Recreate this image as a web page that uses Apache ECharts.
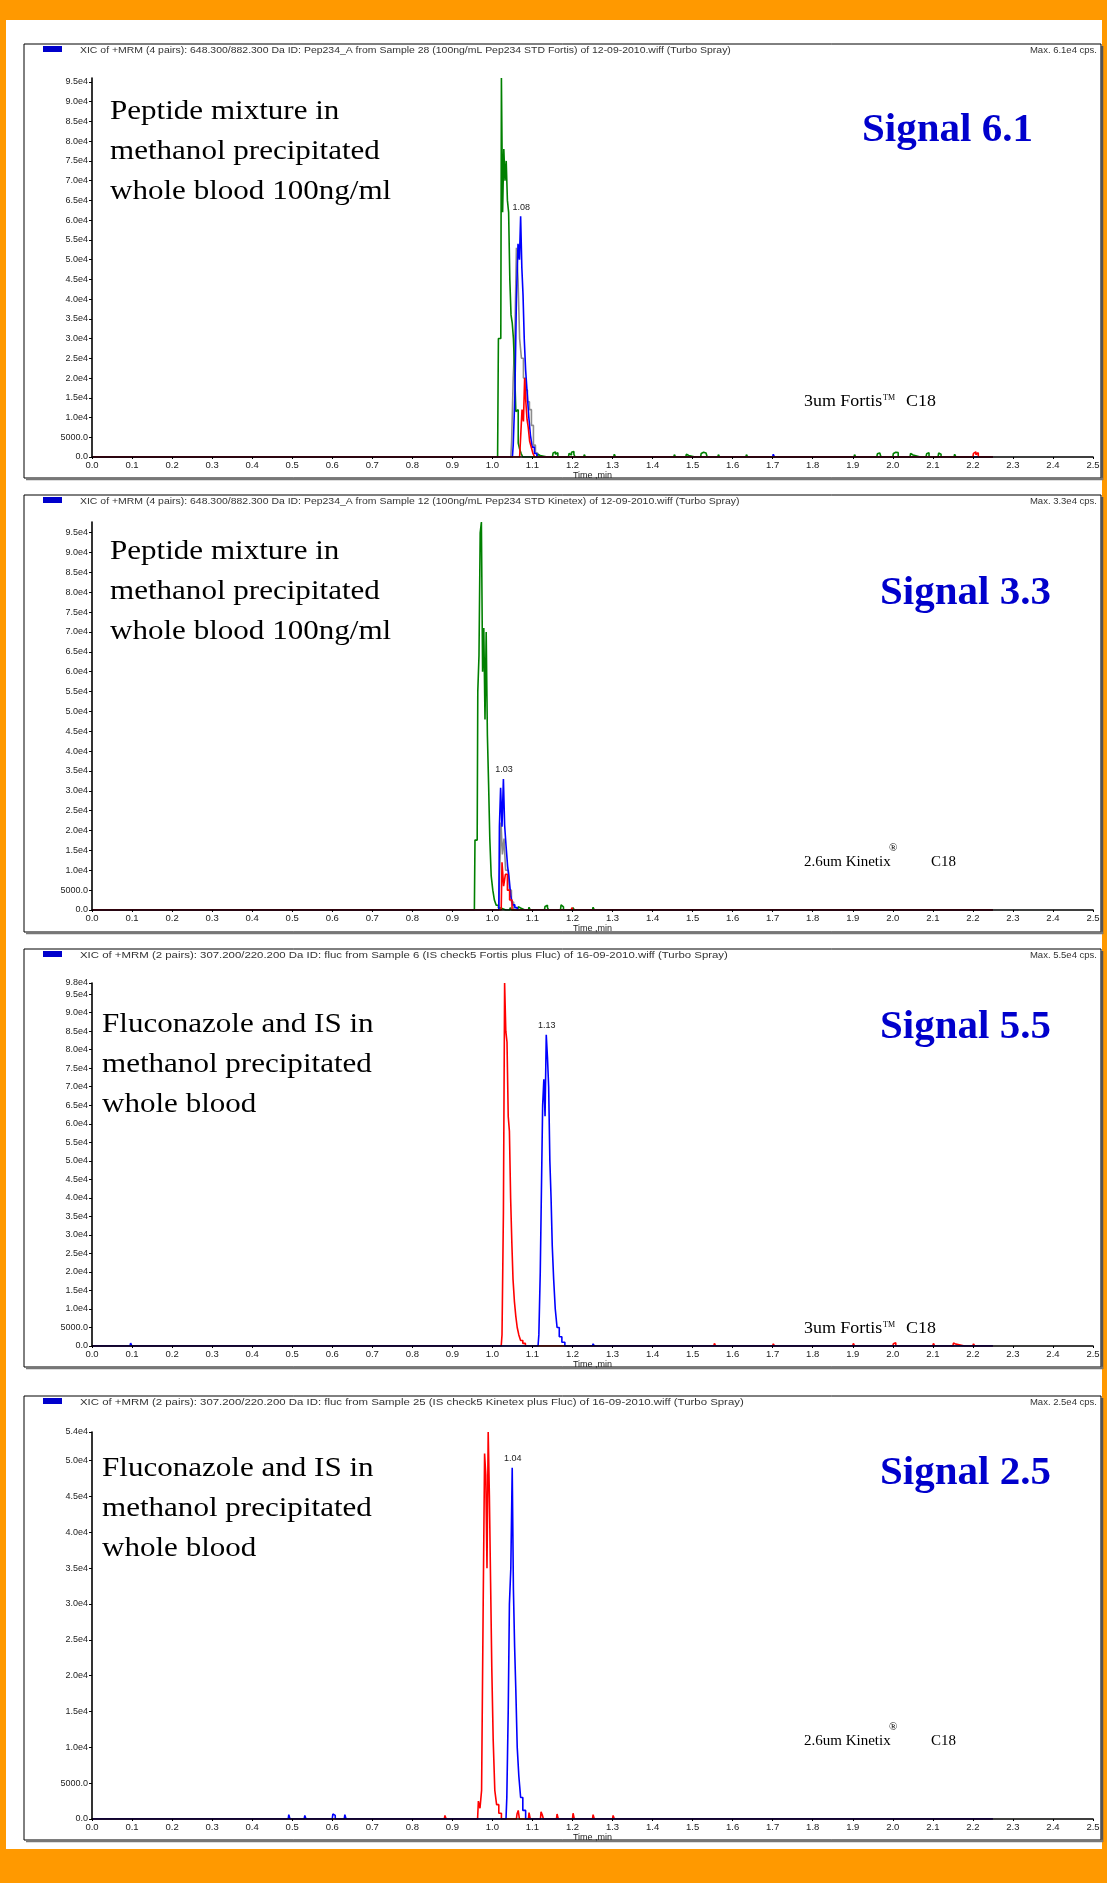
<!DOCTYPE html>
<html><head><meta charset="utf-8">
<script src="https://cdn.jsdelivr.net/npm/echarts@6/dist/echarts.min.js"></script>
<style>html,body{margin:0;padding:0;background:#ff9900}#c{width:1107px;height:1883px}</style>
</head><body><div id="c"></div><script>
// ---------------- DATA ----------------
const headers = [
  'XIC of +MRM (4 pairs): 648.300/882.300 Da ID: Pep234_A from Sample 28 (100ng/mL Pep234 STD Fortis) of 12-09-2010.wiff (Turbo Spray)',
  'XIC of +MRM (4 pairs): 648.300/882.300 Da ID: Pep234_A from Sample 12 (100ng/mL Pep234 STD Kinetex) of 12-09-2010.wiff (Turbo Spray)',
  'XIC of +MRM (2 pairs): 307.200/220.200 Da ID: fluc from Sample 6 (IS check5 Fortis plus Fluc) of 16-09-2010.wiff (Turbo Spray)',
  'XIC of +MRM (2 pairs): 307.200/220.200 Da ID: fluc from Sample 25 (IS check5 Kinetex plus Fluc) of 16-09-2010.wiff (Turbo Spray)'
];
const maxTexts = ['Max. 6.1e4 cps.', 'Max. 3.3e4 cps.', 'Max. 5.5e4 cps.', 'Max. 2.5e4 cps.'];
const signalTexts = ['Signal 6.1', 'Signal 3.3', 'Signal 5.5', 'Signal 2.5'];
const sampleTexts = [
  ['Peptide mixture in', 'methanol precipitated', 'whole blood 100ng/ml'],
  ['Peptide mixture in', 'methanol precipitated', 'whole blood 100ng/ml'],
  ['Fluconazole and IS in', 'methanol precipitated', 'whole blood'],
  ['Fluconazole and IS in', 'methanol precipitated', 'whole blood']
];
const columnTexts = ['fortis', 'kinetex', 'fortis', 'kinetex'];
const yMaxValues = [96000, 97700, 98000, 54000];
const peakLabels = ['1.08', '1.03', '1.13', '1.04'];
const peakPoints = [[1.072, 61000], [1.029, 33000], [1.136, 84000], [1.051, 49000]];

// Panel 1 traces [time (min), intensity (cps)]
const p1Gray = [[0,0],[1.046,0],[1.050,4000],[1.054,20000],[1.058,30000],[1.062,53000],[1.066,45000],[1.070,30000],[1.075,25000],[1.080,20000],[1.085,17000],[1.090,14000],[1.095,12000],[1.100,8000],[1.105,3000],[1.110,1000],[1.116,0],[2.25,0]];
const p1Green = [[0,0],[1.013,0],[1.017,30000],[1.021,30000],[1.024,96000],[1.027,62000],[1.030,78000],[1.033,70000],[1.036,75000],[1.039,65000],[1.042,62000],[1.045,45000],[1.048,36000],[1.051,34000],[1.054,30000],[1.057,22000],[1.060,11500],[1.063,12000],[1.066,3500],[1.070,2000],[1.074,800],[1.078,0],
  [1.112,0],[1.115,700],[1.118,400],[1.121,900],[1.124,0],[1.150,0],[1.153,1000],[1.156,1300],[1.159,700],[1.162,1100],[1.165,0],[1.190,0],[1.193,900],[1.196,500],[1.199,1200],[1.202,1400],[1.205,700],[1.208,0],[1.228,0],[1.231,600],[1.234,0],[1.263,0],[1.266,500],[1.269,0],[1.303,0],[1.306,700],[1.309,0],[1.373,0],[1.376,500],[1.379,0],[1.453,0],[1.456,600],[1.459,0],[1.483,0],[1.486,700],[1.489,400],[1.492,0],[1.520,0],[1.523,900],[1.526,1200],[1.529,1300],[1.532,1000],[1.535,1200],[1.538,0],[1.563,0],[1.566,600],[1.569,0],[1.593,0],[1.596,500],[1.599,0],[1.633,0],[1.636,600],[1.639,0],[1.903,0],[1.906,600],[1.909,0],[1.960,0],[1.963,800],[1.966,1000],[1.969,600],[1.972,0],[2.000,0],[2.003,900],[2.006,1200],[2.009,800],[2.012,1100],[2.015,0],[2.043,0],[2.046,900],[2.049,500],[2.052,1000],[2.055,0],[2.083,0],[2.086,800],[2.089,1100],[2.092,0],[2.113,0],[2.116,1000],[2.119,700],[2.122,0],[2.153,0],[2.156,700],[2.159,0],[2.183,0],[2.186,500],[2.189,0],[2.25,0]];
const p1Blue = [[0,0],[1.050,0],[1.054,3000],[1.058,15000],[1.062,40000],[1.066,54000],[1.069,50000],[1.072,61000],[1.075,48000],[1.078,41000],[1.081,30000],[1.085,22000],[1.089,16000],[1.093,10000],[1.097,5500],[1.102,2500],[1.108,900],[1.114,0],[1.700,0],[1.703,700],[1.706,0],[2.25,0]];
const p1Red = [[0,0],[1.068,0],[1.072,4000],[1.076,12000],[1.079,9000],[1.082,20000],[1.085,14000],[1.088,9500],[1.091,7500],[1.095,4000],[1.099,2500],[1.103,1000],[1.108,0],[2.200,0],[2.203,900],[2.206,1300],[2.209,600],[2.212,1100],[2.215,0],[2.25,0]];

// Panel 2 traces
const p2Gray = [[0,0],[1.016,0],[1.020,9000],[1.023,22000],[1.027,14000],[1.031,18000],[1.035,10000],[1.040,10000],[1.045,5000],[1.050,2000],[1.056,0],[2.25,0]];
const p2Green = [[0,0],[0.955,0],[0.958,17600],[0.962,17600],[0.965,55000],[0.968,64000],[0.971,95000],[0.974,97700],[0.977,60000],[0.980,71000],[0.983,48000],[0.986,70000],[0.989,44000],[0.992,31700],[0.995,18000],[0.999,8600],[1.003,5000],[1.007,2500],[1.012,1200],[1.018,500],[1.024,0],
  [1.043,0],[1.046,600],[1.049,0],[1.063,0],[1.066,800],[1.069,500],[1.072,0],[1.090,0],[1.093,700],[1.096,0],[1.130,0],[1.133,900],[1.136,1200],[1.139,600],[1.142,0],[1.170,0],[1.173,1300],[1.176,800],[1.179,0],[1.200,0],[1.203,600],[1.206,0],[1.250,0],[1.253,700],[1.256,0],[1.300,0],[1.303,500],[1.306,0],[2.25,0]];
const p2Blue = [[0,0],[1.016,0],[1.019,21000],[1.022,30800],[1.026,21000],[1.029,33000],[1.032,21400],[1.036,16300],[1.040,11000],[1.044,7700],[1.048,3400],[1.053,1300],[1.059,600],[1.065,0],[2.25,0]];
const p2Red = [[0,0],[1.022,0],[1.026,12000],[1.030,6000],[1.035,9000],[1.040,5000],[1.046,2500],[1.052,0],[1.197,0],[1.200,600],[1.203,0],[2.25,0]];

// Panel 3 traces
const p3Red = [[0,0],[1.022,0],[1.026,3000],[1.029,36000],[1.032,98000],[1.035,85000],[1.038,82000],[1.041,62000],[1.044,58000],[1.047,40000],[1.050,28000],[1.053,18000],[1.057,12000],[1.060,8000],[1.064,5000],[1.068,3000],[1.073,1500],[1.079,700],[1.086,0],
  [1.553,0],[1.556,700],[1.559,0],[1.620,0],[1.623,500],[1.626,0],[1.700,0],[1.703,600],[1.706,0],[1.800,0],[1.803,500],[1.806,0],[1.900,0],[1.903,700],[1.906,0],[2.000,0],[2.003,600],[2.006,900],[2.009,0],[2.100,0],[2.103,700],[2.106,0],[2.150,0],[2.153,800],[2.156,500],[2.159,0],[2.200,0],[2.203,600],[2.206,0],[2.25,0]];
const p3Blue = [[0,0],[0.095,0],[0.098,800],[0.101,0],[1.114,0],[1.118,3000],[1.121,19800],[1.124,42500],[1.127,65000],[1.130,72000],[1.133,62000],[1.136,84000],[1.139,78000],[1.142,70000],[1.145,50000],[1.148,40000],[1.151,27000],[1.155,18000],[1.159,10000],[1.164,5000],[1.170,2500],[1.177,1000],[1.185,0],[1.250,0],[1.253,600],[1.256,0],[1.300,0],[1.303,500],[1.306,0],[2.25,0]];

// Panel 4 traces
const p4Red = [[0,0],[0.880,0],[0.883,500],[0.886,0],[0.963,0],[0.967,2500],[0.971,1500],[0.975,4000],[0.979,30000],[0.982,51000],[0.985,48000],[0.988,35000],[0.991,54000],[0.994,45000],[0.997,33000],[1.000,21000],[1.004,11000],[1.008,4000],[1.013,2000],[1.019,800],[1.026,0],
  [1.060,0],[1.063,700],[1.066,1200],[1.069,0],[1.090,0],[1.093,900],[1.096,0],[1.120,0],[1.123,1000],[1.126,600],[1.129,0],[1.160,0],[1.163,700],[1.166,0],[1.200,0],[1.203,800],[1.206,0],[1.250,0],[1.253,600],[1.256,0],[1.300,0],[1.303,500],[1.306,0],[2.25,0]];
const p4Blue = [[0,0],[0.490,0],[0.493,600],[0.496,0],[0.530,0],[0.533,500],[0.536,0],[0.600,0],[0.603,700],[0.606,500],[0.609,0],[0.630,0],[0.633,600],[0.636,0],[1.034,0],[1.038,3000],[1.041,15000],[1.044,30000],[1.048,35000],[1.051,49000],[1.054,32000],[1.057,24000],[1.060,18000],[1.064,10000],[1.068,6000],[1.073,3000],[1.079,1200],[1.087,0],[2.25,0]];

const panelTraces = [
  [['gray', p1Gray], ['green', p1Green], ['blue', p1Blue], ['red', p1Red]],
  [['gray', p2Gray], ['green', p2Green], ['blue', p2Blue], ['red', p2Red]],
  [['red', p3Red], ['blue', p3Blue]],
  [['red', p4Red], ['blue', p4Blue]]
];

// ---------------- LAYOUT / STYLE ----------------
const colorMap = { gray: '#8c8c8c', green: '#008000', blue: '#0000ff', red: '#ff0000' };
const frames = [[24, 44, 1077, 434], [24, 495, 1077, 437], [24, 949, 1077, 418], [24, 1396, 1077, 444]];
const plotTops = [78, 522, 983, 1432];
const plotZeros = [457, 910, 1346, 1819];
const plotLeft = 92, plotWidth = 1001;
const headerScale = [1.1, 1.1, 1.2, 1.2];
const sampleTextPos = [[110, 112], [110, 552], [102, 1025], [102, 1469]];
const signalPos = [[862, 130], [880, 593], [880, 1027], [880, 1473]];
const columnPos = [[804, 402], [804, 862], [804, 1329], [804, 1741]];

const chart = echarts.init(document.getElementById('c'), null, { renderer: 'canvas', width: 1107, height: 1883 });

const grids = [], xAxes = [], yAxes = [], series = [], graphics = [];

graphics.push({ type: 'rect', shape: { x: 6, y: 20, width: 1096, height: 1829 }, style: { fill: '#ffffff' }, z: -10, silent: true });

function yFmt(v) {
  if (v === 0) return '0.0';
  if (v === 5000) return '5000.0';
  return (v / 10000).toFixed(1) + 'e4';
}

frames.forEach((f, i) => {
  const [fx, fy, fw, fh] = f;
  graphics.push({ type: 'rect', shape: { x: fx, y: fy, width: fw, height: fh }, style: { fill: '#fff', stroke: '#000', lineWidth: 1 }, z: -5, silent: true });
  graphics.push({ type: 'line', shape: { x1: fx + fw + 1, y1: fy + 2, x2: fx + fw + 1, y2: fy + fh + 2 }, style: { stroke: '#555', lineWidth: 2.5 }, z: -4, silent: true });
  graphics.push({ type: 'line', shape: { x1: fx + 2, y1: fy + fh + 1, x2: fx + fw + 2, y2: fy + fh + 1 }, style: { stroke: '#777', lineWidth: 2.5 }, z: -4, silent: true });
  graphics.push({ type: 'rect', shape: { x: 43, y: fy + 2, width: 19, height: 6 }, style: { fill: '#0000cc' }, z: 1, silent: true });
  graphics.push({ type: 'text', x: 80, y: fy + 6, scaleX: headerScale[i], style: { text: headers[i], fontFamily: 'Liberation Sans', fontSize: 9.5, fill: '#333', textVerticalAlign: 'middle' }, z: 1, silent: true });
  graphics.push({ type: 'text', x: 1097, y: fy + 6, style: { text: maxTexts[i], fontFamily: 'Liberation Sans', fontSize: 9.5, fill: '#333', textAlign: 'right', textVerticalAlign: 'middle' }, z: 1, silent: true });
  sampleTexts[i].forEach((t, k) => {
    graphics.push({ type: 'text', x: sampleTextPos[i][0], y: sampleTextPos[i][1] + k * 40, scaleX: 1.15, style: { text: t, fontFamily: 'Liberation Serif', fontSize: 27, fill: '#000', textVerticalAlign: 'middle' }, z: 1, silent: true });
  });
  graphics.push({ type: 'text', x: signalPos[i][0], y: signalPos[i][1], style: { text: signalTexts[i], fontFamily: 'Liberation Serif', fontWeight: 'bold', fontSize: 41, fill: '#0000cc', textVerticalAlign: 'middle' }, z: 1, silent: true });
  const [cx, cy] = columnPos[i];
  if (columnTexts[i] === 'fortis') {
    graphics.push({ type: 'text', x: cx, y: cy, scaleX: 1.12, style: { text: '3um Fortis', fontFamily: 'Liberation Serif', fontSize: 16, fill: '#000', textVerticalAlign: 'middle' }, z: 1, silent: true });
    graphics.push({ type: 'text', x: cx + 79, y: cy - 4, style: { text: 'TM', fontFamily: 'Liberation Serif', fontSize: 8, fill: '#000', textVerticalAlign: 'middle' }, z: 1, silent: true });
    graphics.push({ type: 'text', x: cx + 102, y: cy, scaleX: 1.12, style: { text: 'C18', fontFamily: 'Liberation Serif', fontSize: 16, fill: '#000', textVerticalAlign: 'middle' }, z: 1, silent: true });
  } else {
    graphics.push({ type: 'text', x: cx, y: cy, style: { text: '2.6um Kinetix', fontFamily: 'Liberation Serif', fontSize: 15, fill: '#000', textVerticalAlign: 'middle' }, z: 1, silent: true });
    graphics.push({ type: 'text', x: cx + 85, y: cy - 14, style: { text: '®', fontFamily: 'Liberation Serif', fontSize: 11, fill: '#000', textVerticalAlign: 'middle' }, z: 1, silent: true });
    graphics.push({ type: 'text', x: cx + 127, y: cy, style: { text: 'C18', fontFamily: 'Liberation Serif', fontSize: 15, fill: '#000', textVerticalAlign: 'middle' }, z: 1, silent: true });
  }

  grids.push({ left: plotLeft, width: plotWidth, top: plotTops[i], height: plotZeros[i] - plotTops[i], containLabel: false });
  xAxes.push({
    type: 'value', gridIndex: i, min: 0, max: 2.5, interval: 0.1, z: 6,
    name: 'Time ,min', nameLocation: 'middle', nameGap: 14,
    nameTextStyle: { fontFamily: 'Liberation Sans', fontSize: 9, color: '#222' },
    axisLine: { show: true, lineStyle: { color: '#000', width: 1.6 } },
    axisTick: { show: true, length: 2, lineStyle: { color: '#000' } },
    axisLabel: { fontFamily: 'Liberation Sans', fontSize: 9.5, color: '#222', margin: 3, formatter: v => v.toFixed(1) },
    splitLine: { show: false }
  });
  yAxes.push({
    type: 'value', gridIndex: i, min: 0, max: yMaxValues[i], interval: 5000, z: 6,
    axisLine: { show: true, onZero: false, lineStyle: { color: '#000', width: 1.6 } },
    axisTick: { show: true, length: 3, lineStyle: { color: '#000' } },
    axisLabel: { fontFamily: 'Liberation Sans', fontSize: 9, color: '#222', margin: 4, formatter: yFmt, showMaxLabel: (i >= 2) },
    splitLine: { show: false }
  });
  panelTraces[i].forEach(([col, data]) => {
    const s = {
      type: 'line', xAxisIndex: i, yAxisIndex: i, data: data, step: 'middle',
      showSymbol: false, symbol: 'none', animation: false, silent: true,
      lineStyle: { color: colorMap[col], width: 1.6 }, itemStyle: { color: colorMap[col] }
    };
    if (col === 'blue') {
      s.markPoint = {
        symbol: 'circle', symbolSize: 1, itemStyle: { color: 'rgba(0,0,0,0)' }, animation: false,
        label: { show: true, position: 'top', distance: 4, fontFamily: 'Liberation Sans', fontSize: 9, color: '#222', formatter: peakLabels[i] },
        data: [{ coord: peakPoints[i] }]
      };
    }
    series.push(s);
  });
});

chart.setOption({
  backgroundColor: '#ff9900',
  animation: false,
  grid: grids, xAxis: xAxes, yAxis: yAxes, series: series,
  graphic: { elements: graphics }
});
</script></body></html>
